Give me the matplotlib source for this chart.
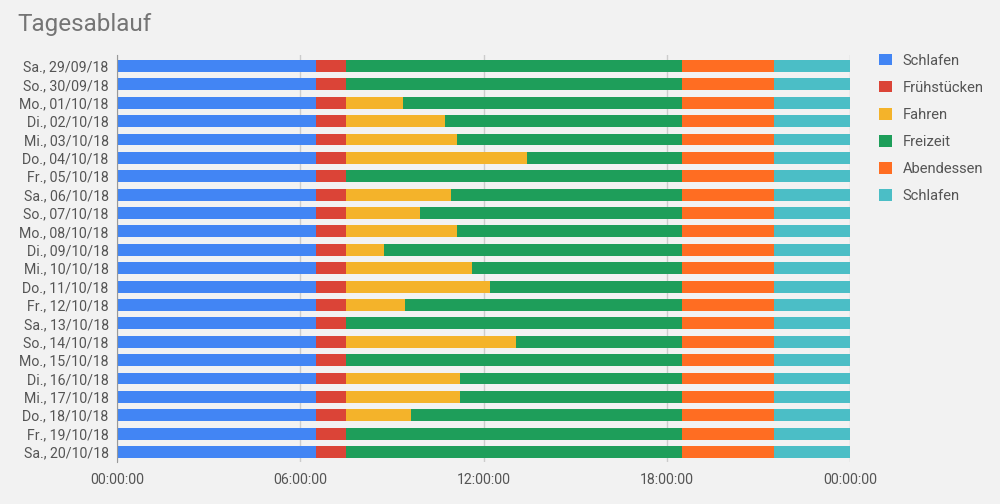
import matplotlib.pyplot as plt
from matplotlib.patches import Patch

plt.rcParams['font.family'] = ['Roboto', 'DejaVu Sans']

days = ["Sa., 29/09/18", "So., 30/09/18", "Mo., 01/10/18", "Di., 02/10/18",
        "Mi., 03/10/18", "Do., 04/10/18", "Fr., 05/10/18", "Sa., 06/10/18",
        "So., 07/10/18", "Mo., 08/10/18", "Di., 09/10/18", "Mi., 10/10/18",
        "Do., 11/10/18", "Fr., 12/10/18", "Sa., 13/10/18", "So., 14/10/18",
        "Mo., 15/10/18", "Di., 16/10/18", "Mi., 17/10/18", "Do., 18/10/18",
        "Fr., 19/10/18", "Sa., 20/10/18"]

# Ende der Fahrt (leer = keine Fahrt)
fahren_ende = ["", "", "09:22", "10:45", "11:07", "13:26", "", "10:57",
               "09:55", "11:08", "08:44", "11:37", "12:13", "09:26", "",
               "13:03", "", "11:13", "11:13", "09:37", "", ""]

schlafen_ende = "06:30"
fruehstueck_ende = "07:30"
freizeit_ende = "18:30"
abendessen_ende = "21:30"
tag_ende = "24:00"

aktivitaeten = ["Schlafen", "Frühstücken", "Fahren", "Freizeit", "Abendessen", "Schlafen"]
farben = ["#4285f4", "#db4437", "#f4b32a", "#1e9e5a", "#ff6d22", "#4bbec6"]
tick_labels = ["00:00:00", "06:00:00", "12:00:00", "18:00:00", "00:00:00"]


def h(s):
    hh, mm = s.split(":")
    return int(hh) + int(mm) / 60


fig = plt.figure(figsize=(10, 5.04), dpi=100, facecolor="#f2f2f2")
ax = fig.add_axes([0.117, 0.083, 0.733, 0.808])
ax.set_facecolor("#f2f2f2")

for i, day in enumerate(days):
    fe = h(fahren_ende[i]) if fahren_ende[i] else h(fruehstueck_ende)
    grenzen = [0, h(schlafen_ende), h(fruehstueck_ende), fe,
               h(freizeit_ende), h(abendessen_ende), h(tag_ende)]
    for k in range(6):
        w = grenzen[k + 1] - grenzen[k]
        if w > 0:
            ax.barh(i, w, left=grenzen[k], height=0.65, color=farben[k],
                    linewidth=0, zorder=3)

ax.set_ylim(21.55, -0.6)
ax.set_xlim(0, 24)
ax.set_yticks(range(len(days)))
ax.set_yticklabels(days, fontsize=10.2, color="#555555")
ax.set_xticks([0, 6, 12, 18, 24])
ax.set_xticklabels(tick_labels, fontsize=10.2, color="#555555")
ax.tick_params(axis="both", length=0, pad=8)
ax.tick_params(axis="y", pad=6)
ax.grid(axis="x", color="#cccccc", linewidth=1, zorder=0)
for s in ["top", "right", "bottom"]:
    ax.spines[s].set_visible(False)
ax.spines["left"].set_color("#999999")
ax.spines["left"].set_zorder(4)

fig.text(0.017, 0.952, "Tagesablauf", fontsize=17.5, color="#757575", va="center")

handles = [Patch(facecolor=c, edgecolor="none") for c in farben]
fig.legend(handles, aktivitaeten, loc="upper left", bbox_to_anchor=(0.866, 0.92),
           frameon=False, fontsize=10.6, handlelength=0.85, handleheight=0.85,
           labelspacing=0.89, handletextpad=0.75, labelcolor="#555555")

fig.savefig("out.png", dpi=100, facecolor=fig.get_facecolor())
